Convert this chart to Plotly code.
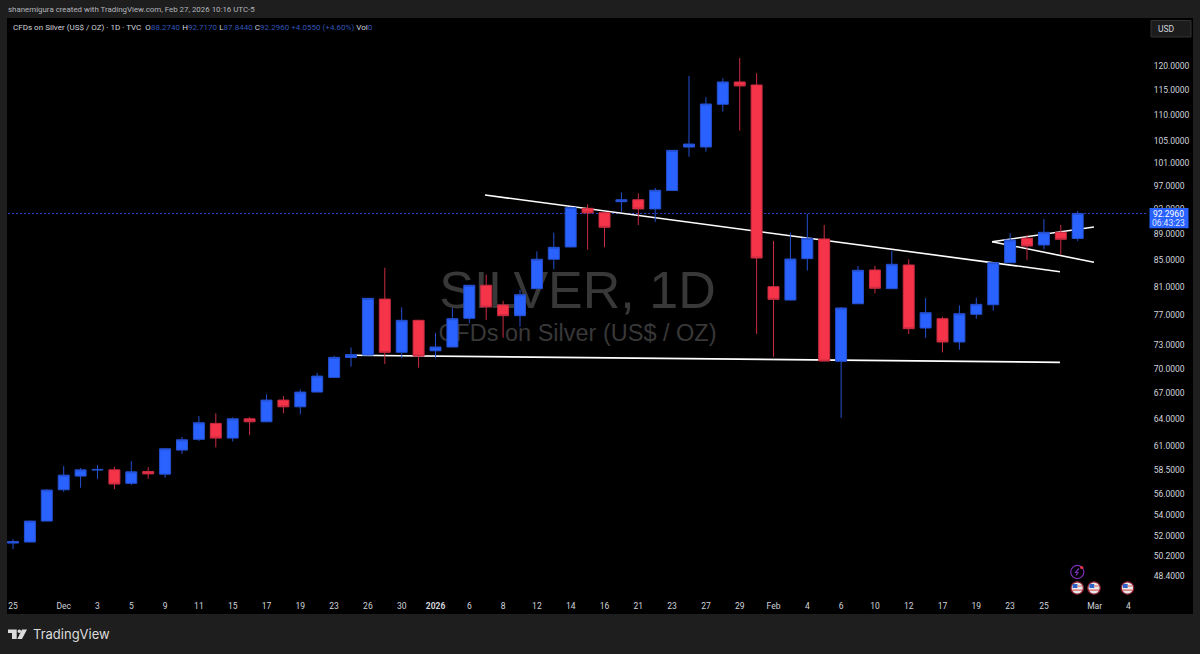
import math
import plotly.graph_objects as go

dates = ["2025-11-25","2025-11-26","2025-11-28","2025-12-01","2025-12-02","2025-12-03","2025-12-04","2025-12-05",
 "2025-12-08","2025-12-09","2025-12-10","2025-12-11","2025-12-12","2025-12-15","2025-12-16","2025-12-17","2025-12-18",
 "2025-12-19","2025-12-22","2025-12-23","2025-12-24","2025-12-26","2025-12-29","2025-12-30","2025-12-31","2026-01-02",
 "2026-01-05","2026-01-06","2026-01-07","2026-01-08","2026-01-09","2026-01-12","2026-01-13","2026-01-14","2026-01-15",
 "2026-01-16","2026-01-20","2026-01-21","2026-01-22","2026-01-23","2026-01-26","2026-01-27","2026-01-28","2026-01-29",
 "2026-01-30","2026-02-02","2026-02-03","2026-02-04","2026-02-05","2026-02-06","2026-02-09","2026-02-10","2026-02-11",
 "2026-02-12","2026-02-13","2026-02-17","2026-02-18","2026-02-19","2026-02-20","2026-02-23","2026-02-24","2026-02-25",
 "2026-02-26","2026-02-27","2026-03-02","2026-03-03","2026-03-04"]

opens = [51.33,51.43,53.38,56.44,57.83,58.45,58.48,57.09,58.31,58.03,60.57,61.74,63.52,61.88,64.04,63.70,66.21,65.42,
 67.16,68.94,71.42,71.73,79.25,72.08,76.31,72.28,72.77,76.58,81.22,78.41,76.94,80.73,85.07,86.95,93.15,92.43,94.25,
 94.58,93.04,96.14,103.88,103.88,112.09,116.64,116.01,81.02,79.11,85.16,88.20,70.94,78.59,83.46,80.73,84.21,75.27,
 76.53,73.42,77.13,78.45,84.55,88.31,87.26,89.25,88.274]
highs = [51.70,53.43,56.51,58.87,58.66,58.97,58.80,59.39,58.76,60.82,62.00,64.35,64.66,64.20,64.23,66.89,66.69,67.48,
 69.51,71.65,72.70,79.40,83.80,78.09,76.39,74.60,77.96,81.26,82.77,79.01,80.54,86.28,89.19,93.42,93.82,92.59,95.83,
 95.66,96.58,103.33,117.89,113.50,117.41,121.72,118.46,87.88,89.19,92.21,90.42,78.14,84.06,84.06,86.37,85.07,79.40,
 76.80,78.37,79.44,84.58,89.10,88.83,91.39,90.42,92.717]
lows = [50.78,51.38,53.38,56.24,56.64,57.55,56.51,56.91,57.55,57.66,60.17,61.55,60.86,61.52,62.21,63.70,64.67,64.55,
 67.16,68.94,70.26,71.67,70.60,71.32,70.13,71.32,72.73,75.90,76.35,73.98,75.45,80.68,83.57,86.90,86.53,86.90,92.59,
 90.42,90.91,96.06,102.11,103.02,110.63,106.95,74.47,71.52,79.07,83.36,70.94,64.15,78.55,80.07,80.68,74.47,73.98,
 72.08,72.41,76.53,77.62,84.51,84.96,86.59,85.72,87.844]
closes = [51.47,53.38,56.41,57.93,58.48,58.52,57.02,58.27,58.06,60.71,61.69,63.59,61.88,64.04,63.70,66.21,65.42,67.16,
 69.10,71.44,71.80,79.35,72.08,76.31,71.60,72.77,76.53,81.22,78.14,76.94,79.87,85.07,86.90,93.25,92.38,90.05,94.58,
 93.04,96.18,103.27,104.43,112.15,116.64,115.81,85.26,79.21,85.11,88.31,70.97,78.00,83.42,80.79,84.31,75.18,77.35,
 73.42,77.21,78.51,84.55,88.04,87.10,89.25,88.15,92.296]

y_ticks = [120,115,110,105,101,97,93,89,85,81,77,73,70,67,64,61,58.5,56,54,52,50.2,48.4]
tick_dates = ["2025-11-25","2025-12-01","2025-12-03","2025-12-05","2025-12-09","2025-12-11","2025-12-15","2025-12-17",
 "2025-12-19","2025-12-23","2025-12-26","2025-12-30","2026-01-02","2026-01-06","2026-01-08","2026-01-12","2026-01-14",
 "2026-01-16","2026-01-21","2026-01-23","2026-01-27","2026-01-29","2026-02-02","2026-02-04","2026-02-06","2026-02-10",
 "2026-02-12","2026-02-17","2026-02-19","2026-02-23","2026-02-25","2026-03-02","2026-03-04"]
tick_labels = ["25","Dec","3","5","9","11","15","17","19","23","26","30","<b>2026</b>","6","8","12","14","16","21","23",
 "27","29","Feb","4","6","10","12","17","19","23","25","Mar","4"]

last_price = 92.296
trend_lines = [
    ([27.93, 61.95], [95.38, 83.21]),
    ([20.12, 61.95], [71.70, 70.81]),
    ([57.93, 63.96], [87.77, 90.10]),
    ([57.93, 63.96], [87.77, 84.61]),
]

BLUE, RED = "#2962ff", "#f5344a"
WICK_BLUE, WICK_RED = "#2550d0", "#c92c40"
L, R, T, B = 7, 1147, 18, 595
W, H = 1200, 654
px = lambda x: (x - L) / (R - L)
py = lambda y: 1 - (y - T) / (B - T)
FONT = "Roboto"
y_range = [math.log10(46.8), math.log10(130.7)]
idx = list(range(len(opens)))

fig = go.Figure()
# watermark and drawings sit on the lower axes, the candles on an overlay
fig.add_trace(go.Scatter(x=[33.4], y=[79.82], mode="text", text=["SILVER, 1D"], hoverinfo="skip",
    textfont=dict(family="Liberation Sans", size=52, color="#383838"), textposition="middle center"))
fig.add_trace(go.Scatter(x=[33.4], y=[74.27], mode="text", text=["CFDs on Silver (US$ / OZ)"], hoverinfo="skip",
    textfont=dict(family="Liberation Sans", size=23.5, color="#383838"), textposition="middle center"))
fig.add_trace(go.Scatter(x=[-1, 67.1], y=[last_price, last_price], mode="lines", hoverinfo="skip",
    line=dict(color="#2a4ad8", width=1, dash="2px 2px")))
for xs, ys in trend_lines:
    fig.add_trace(go.Scatter(x=xs, y=ys, mode="lines", hoverinfo="skip", line=dict(color="#ffffff", width=1.6)))
fig.add_trace(go.Candlestick(x=idx, open=opens, high=highs, low=lows, close=closes, yaxis="y2", whiskerwidth=0,
    increasing=dict(line=dict(color=WICK_BLUE, width=1), fillcolor=BLUE),
    decreasing=dict(line=dict(color=WICK_RED, width=1), fillcolor=RED), hoverinfo="skip"))

shapes = [dict(type="rect", xref="paper", yref="paper", layer="below", x0=px(7), x1=px(1193), y0=py(18), y1=py(614),
               fillcolor="#000000", line_width=0)]
def rect(x0, y0, x1, y1, fill, line=None, lw=0):
    shapes.append(dict(type="rect", xref="paper", yref="paper", x0=px(x0), x1=px(x1), y0=py(y0), y1=py(y1),
                       fillcolor=fill, line=dict(color=line or fill, width=lw)))
def circle(cx, cy, r, fill, line=None, lw=0):
    shapes.append(dict(type="circle", xref="paper", yref="paper", x0=px(cx-r), x1=px(cx+r), y0=py(cy-r), y1=py(cy+r),
                       fillcolor=fill, line=dict(color=line or fill, width=lw)))
def poly(points, fill=None, line=None, lw=0):
    d = "M" + " L".join(f"{px(a):.5f},{py(b):.5f}" for a, b in points) + (" Z" if fill else "")
    shapes.append(dict(type="path", xref="paper", yref="paper", path=d, fillcolor=fill or "rgba(0,0,0,0)",
                       line=dict(color=line or fill, width=lw)))

# price tag, USD button
rect(1149.5, 208, 1188.5, 228.3, "#2962ff")
rect(1151, 20.5, 1191, 37, "#1c1c1c", "#333333", 1)
# event icons
circle(1077.3, 572, 6.6, "#000000", "#7a2fb5", 1.2)
poly([(1079, 568.5), (1075.5, 572.5), (1078, 572.5), (1076, 575.5)], None, "#7a2fb5", 1.2)
circle(1081.7, 567.5, 1.6, "#f23645")
for cx in (1077.2, 1094, 1127.5):
    circle(cx, 588, 6.2, "#e8e8e8", "#8c1d2f", 1.3)
    rect(cx-4.6, 584, cx+0.2, 588, "#2f63c8")
    rect(cx+0.2, 585.5, cx+4.6, 586.6, "#d66")
    rect(cx-5, 589.5, cx+5, 590.8, "#d66")
# TradingView mark
poly([(8, 629.5), (16.7, 629.5), (16.7, 639), (12, 639), (12, 633), (8, 633)], "#dcdcdc")
circle(19.3, 631.2, 1.8, "#dcdcdc")
poly([(22, 629.5), (27, 629.5), (22, 639), (17.3, 639)], "#dcdcdc")

def note(x, y, text, size=8, color="#d1d4dc", anchor="left", family=FONT):
    return dict(xref="paper", yref="paper", x=px(x), y=py(y), text=text, showarrow=False, xanchor=anchor,
                yanchor="middle", font=dict(family=family, size=size, color=color), align="left", borderpad=0)

V = "#2f55b5"
def c(t):
    return f'<span style="color:{V}">{t}</span>'
legend_text = ("CFDs on Silver (US$ / OZ) · 1D · TVC  O" + c("88.2740") + " H" + c("92.7170") + " L" + c("87.8440") + " C"
               + c("92.2960") + " " + c("+4.0550 (+4.60%)") + " Vol" + c("0"))
annotations = [
    note(7, 9.5, "shanemigura created with TradingView.com, Feb 27, 2026 10:16 UTC-5", 7.9, "#b4b6bd"),
    note(12, 27.5, legend_text, 8.05),
    note(1157, 29, "USD", 8.5),
    note(1168.8, 213.7, "92.2960", 8.5, "#ffffff", "center"),
    note(1168.8, 223, "06:43:23", 8.5, "#dfe6ff", "center"),
    note(32, 634, "TradingView", 13, "#dcdcdc", family="Inter"),
]

fig.update_layout(
    width=W, height=H, autosize=False, showlegend=False,
    margin=dict(l=L, r=W - R, t=T, b=H - B, pad=0),
    paper_bgcolor="#1e1e1e", plot_bgcolor="#000000", boxgap=0.35, boxgroupgap=0,
    shapes=shapes, annotations=annotations,
    xaxis=dict(range=[-0.355, 67.1], showgrid=False, zeroline=False, rangeslider=dict(visible=False), showline=False,
               tickmode="array", tickvals=[dates.index(d) for d in tick_dates], ticktext=tick_labels,
               tickfont=dict(family=FONT, size=8.5, color="#d1d4dc"), ticks="outside", ticklen=3,
               tickcolor="rgba(0,0,0,0)", tickangle=0),
    yaxis=dict(type="log", range=y_range, side="right", showgrid=False, zeroline=False, showline=False,
               tickmode="array", tickvals=y_ticks, ticktext=[f"{v:.4f}" for v in y_ticks],
               tickfont=dict(family=FONT, size=8.5, color="#d1d4dc"), ticks="outside", ticklen=4,
               tickcolor="rgba(0,0,0,0)"),
    yaxis2=dict(type="log", range=y_range, overlaying="y", side="right", showgrid=False, zeroline=False,
                showticklabels=False, ticks="", showline=False),
)
fig.write_html("out.html", config=dict(displayModeBar=False),
               post_script="document.body.style.margin='0';document.body.style.background='#1e1e1e';")
